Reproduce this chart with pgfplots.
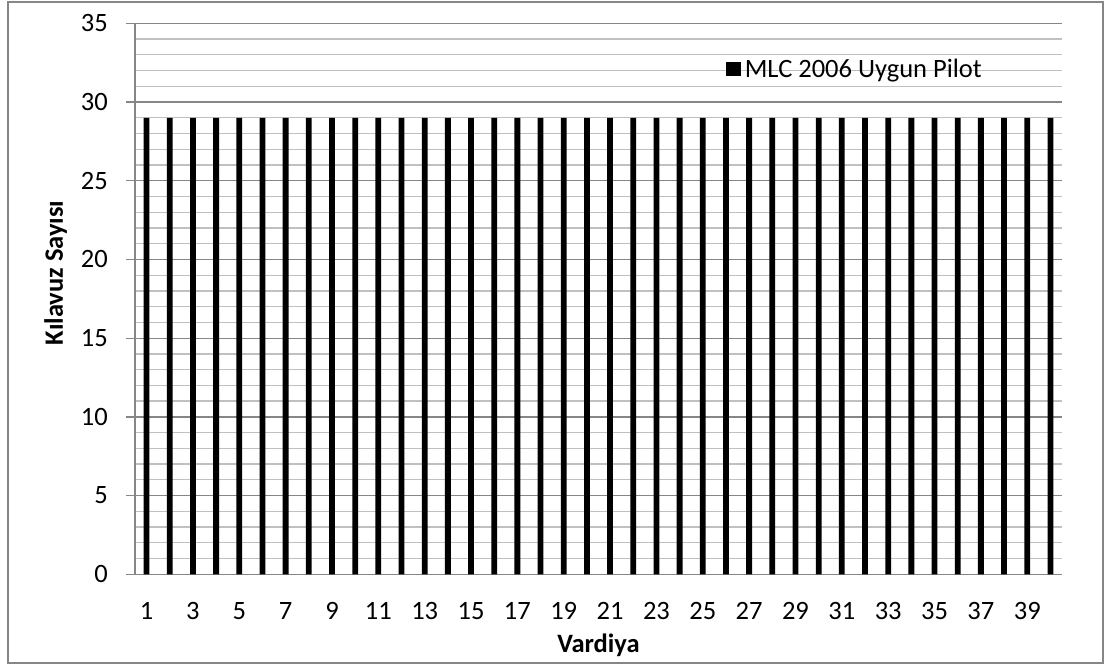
\documentclass[border=0pt]{standalone}
\usepackage{fontspec}
\setmainfont{Carlito}
\usepackage{pgfplots}
\pgfplotsset{compat=1.18}
\definecolor{majgrid}{HTML}{868686}
\definecolor{mingrid}{HTML}{C0C0C0}
\begin{document}
\begin{tikzpicture}[x=1pt,y=1pt]
\path[use as bounding box] (0,0) rectangle (1105,665);
\draw[majgrid, line width=2pt] (8,2) rectangle (1103,663);
\begin{axis}[
  at={(135pt,90.7pt)}, anchor=south west,
  scale only axis, width=927pt, height=551pt,
  ymin=0, ymax=35, xmin=0.5, xmax=40.5,
  ytick={0,5,...,35}, minor ytick={0,1,...,35},
  ymajorgrids, yminorgrids,
  major grid style={majgrid, line width=1.3pt},
  minor grid style={mingrid, line width=1.3pt},
  axis x line*=bottom, axis y line*=left,
  axis line style={majgrid, line width=1.3pt, -},
  xtick={1,3,...,39},
  xtick style={draw=none},
  ytick style={majgrid, line width=1.3pt},
  minor tick length=0pt,
  tick align=outside, major tick length=9pt,
  /pgf/number format/assume math mode=true,
  ticklabel style={font=\fontsize{26.5}{31}\selectfont, inner sep=0pt},
  yticklabel style={anchor=east, xshift=-18pt},
  xticklabel style={anchor=north, yshift=-18.5pt},
  xlabel={Vardiya},
  xlabel style={font=\fontsize{26.5}{31}\selectfont\bfseries, at={(axis description cs:0.5,-0.1428)}, anchor=base, inner sep=0pt},
  ylabel={Kılavuz Sayısı},
  ylabel style={font=\fontsize{26.5}{31}\selectfont\bfseries, at={(axis description cs:-0.0777,0.547)}, anchor=base, rotate=0, inner sep=0pt},
  ybar, bar width=5.8pt,
  legend style={at={(axis description cs:0.6375,0.917)}, anchor=west, draw=none, fill=none, inner sep=0pt, font=\fontsize{26.5}{31}\selectfont, nodes={inner sep=0pt}},
  legend image code/.code={\fill[black] (0pt,-7.3pt) rectangle (14.6pt,7.3pt);},
  legend cell align=left,
  clip=false,
]
\addplot[fill=black, draw=none] coordinates {
(1,29) (2,29) (3,29) (4,29) (5,29) (6,29) (7,29) (8,29) (9,29) (10,29)
(11,29) (12,29) (13,29) (14,29) (15,29) (16,29) (17,29) (18,29) (19,29) (20,29)
(21,29) (22,29) (23,29) (24,29) (25,29) (26,29) (27,29) (28,29) (29,29) (30,29)
(31,29) (32,29) (33,29) (34,29) (35,29) (36,29) (37,29) (38,29) (39,29) (40,29)
};
\addlegendentry{\hspace{4pt}MLC 2006 Uygun Pilot}
\end{axis}
\end{tikzpicture}
\end{document}
